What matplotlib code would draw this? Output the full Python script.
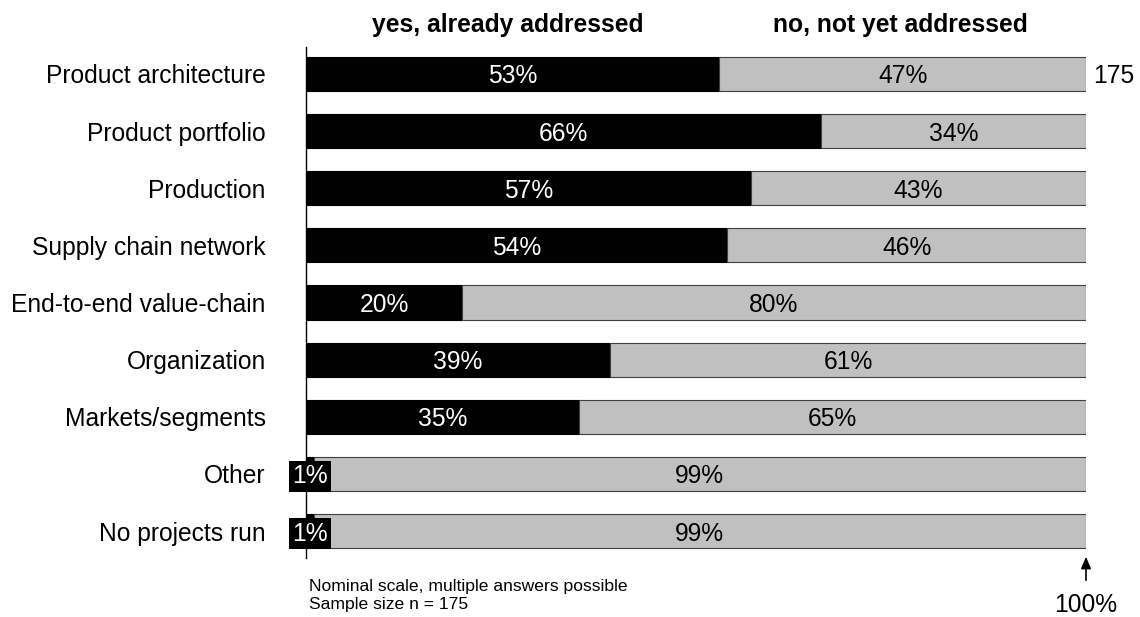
import numpy as np
import matplotlib.pyplot as plt

plt.rcParams['font.family'] = ['Liberation Sans', 'DejaVu Sans']

CATEGORIES = ['Product architecture', 'Product portfolio', 'Production',
              'Supply chain network', 'End-to-end value-chain', 'Organization',
              'Markets/segments', 'Other', 'No projects run']
YES = [53, 66, 57, 54, 20, 39, 35, 1, 1]
NO = [47, 34, 43, 46, 80, 61, 65, 99, 99]
HEADERS = ['yes, already addressed', 'no, not yet addressed']
N = 175

W, H = 1140, 617
FS = 17.7
fig = plt.figure(figsize=(W / 100, H / 100), dpi=100)
ax = fig.add_axes([306 / W, 1 - 558 / H, 780 / W, 511 / H])

y = np.arange(len(CATEGORIES))
ax.barh(y, YES, height=0.6, color='black', edgecolor='black', linewidth=0.8)
ax.barh(y, NO, left=YES, height=0.6, color='#c0c0c0', edgecolor='#404040', linewidth=0.8)

# percentage labels inside the segments
for i in range(len(CATEGORIES)):
    ax.text(YES[i] / 2, i, f'{YES[i]}%', ha='center', va='center_baseline', color='white',
            fontsize=FS, bbox=dict(facecolor='black', edgecolor='none', pad=2.5))
    ax.text(YES[i] + NO[i] / 2, i, f'{NO[i]}%', ha='center', va='center_baseline',
            color='black', fontsize=FS)

ax.set_xlim(0, 100)
ax.set_ylim(len(CATEGORIES) - 0.53, -0.47)
ax.set_yticks(y)
ax.set_yticklabels(CATEGORIES, fontsize=FS)
ax.tick_params(axis='y', length=0, pad=29)
ax.set_xticks([])
for s in ['top', 'right', 'bottom']:
    ax.spines[s].set_visible(False)
ax.spines['left'].set_linewidth(1.0)

# column headers
fig.text(508 / W, 1 - 25 / H, HEADERS[0], ha='center', va='center', fontsize=FS, fontweight='bold')
fig.text(900 / W, 1 - 25 / H, HEADERS[1], ha='center', va='center', fontsize=FS, fontweight='bold')

# sample size and 100% marker
ax.text(100.9, 0, str(N), ha='left', va='center_baseline', fontsize=FS, clip_on=False)
ax.annotate('', xy=(1086 / W, 1 - 554 / H), xytext=(1086 / W, 1 - 583 / H),
            xycoords='figure fraction', textcoords='figure fraction',
            arrowprops=dict(arrowstyle='-|>,head_length=0.7,head_width=0.3',
                            color='black', lw=1.2), annotation_clip=False)
fig.text(1086 / W, 1 - 605 / H, '100%', ha='center', va='center', fontsize=FS)

fig.text(309 / W, 1 - 586 / H, 'Nominal scale, multiple answers possible',
         fontsize=12.6, ha='left', va='center')
fig.text(309 / W, 1 - 604 / H, 'Sample size n = 175', fontsize=12.6, ha='left', va='center')

fig.savefig('out.png', dpi=100)
